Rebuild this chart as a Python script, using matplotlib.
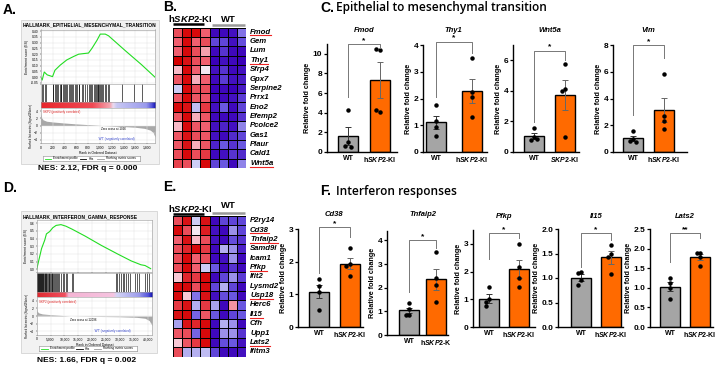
import numpy as np
import matplotlib.pyplot as plt
from matplotlib.colors import LinearSegmentedColormap
from matplotlib.patches import Rectangle
from matplotlib.lines import Line2D
import matplotlib.transforms as mtrans

plt.rcParams['font.family'] = ['Liberation Sans', 'DejaVu Sans']
plt.rcParams['mathtext.fontset'] = 'custom'
plt.rcParams['mathtext.it'] = 'Liberation Sans:italic:bold'
plt.rcParams['mathtext.rm'] = 'Liberation Sans:bold'

# ---------------- GSEA: EMT ----------------
emt_rank = [0, 25, 60, 110, 200, 240, 330, 440, 555, 640, 720, 807, 864, 949, 1006, 1090, 1146, 1430, 1700, 1930]
emt_es = [0, -0.025, 0.045, 0.02, 0.005, 0.06, 0.105, 0.15, 0.18, 0.20, 0.205, 0.21, 0.25, 0.32, 0.375, 0.375, 0.36, 0.23, 0.11, 0.0]
emt_hits = [22, 45, 70, 90, 200, 215, 240, 262, 280, 300, 318, 335, 350, 372, 390, 410, 425, 445, 470,
            490, 505, 530, 550, 575, 600, 620, 640, 655, 690, 720, 750, 780, 810, 835, 850, 870, 895, 910,
            930, 945, 960, 975, 990, 1005, 1020, 1040, 1060, 1080, 1100, 1130, 1150, 1373, 1581, 1712]
emt_metric_rank = [0, 15, 40, 100, 200, 400, 600, 800, 1026, 1200, 1400, 1600, 1750, 1850, 1900, 1930]
emt_metric = [3.5, 2.2, 1.6, 1.2, 1.0, 0.7, 0.45, 0.25, 0.0, -0.15, -0.3, -0.5, -0.8, -1.3, -2.0, -3.2]

# ---------------- GSEA: IFN gamma ----------------
ifn_rank = [0, 900, 1750, 2900, 3500, 4650, 5800, 7000, 8740, 10500, 12800, 17500, 23300, 29100,
            34000, 37500, 39000, 40000, 41000]
ifn_es = [0, 0.14, 0.27, 0.38, 0.46, 0.49, 0.54, 0.57, 0.58, 0.56, 0.52, 0.43, 0.31, 0.2,
          0.11, 0.06, 0.05, 0.03, 0.01]
ifn_hits = [100, 250, 400, 600, 750, 900, 1100, 1300, 1500, 1650, 1800, 2000, 2200, 2400, 2600, 2900,
            3100, 3300, 3500, 3800, 4000, 4300, 4600, 4800, 5100, 5400, 5600, 5900, 6300, 6600, 6900,
            7300, 7700, 8200, 8700, 9300, 9900, 10400, 11000, 12800, 13200, 28500, 29000, 29600, 30300,
            31000, 31500, 32200, 33000, 33600, 35500, 36200, 37000, 39000, 39600, 40300]
ifn_metric_rank = [0, 200, 800, 2000, 5000, 8000, 12096, 20000, 30000, 36000, 39000, 40500, 41500]
ifn_metric = [2.0, 1.2, 0.8, 0.55, 0.35, 0.2, 0.0, -0.1, -0.2, -0.35, -0.6, -1.2, -2.5]

# ---------------- heatmaps ----------------
emt_genes = ['Fmod', 'Gem', 'Lum', 'Thy1', 'Sfrp4', 'Gpx7', 'Serpine2', 'Prrx1', 'Eno2', 'Efemp2',
             'Pcolce2', 'Gas1', 'Plaur', 'Cald1', 'Wnt5a']
emt_marked = ['Fmod', 'Thy1', 'Wnt5a']
emt_heat = [
    [0.6, 0.95, 0.95, 0.5, -0.95, -0.95, -0.9, -0.4],
    [0.5, 0.95, 0.5, 0.6, -0.6, -0.6, -0.9, -0.55],
    [0.5, 0.95, 0.6, 0.25, -0.95, -0.7, -0.95, -0.95],
    [1.0, 0.9, 0.6, 0.5, -1.0, -0.9, -0.95, -1.0],
    [0.15, 0.95, 0.5, 0.0, -0.9, -0.7, -0.95, -0.9],
    [0.55, 0.95, 0.2, 0.5, -0.95, -0.65, -0.9, -0.85],
    [-0.1, 0.95, 0.6, 0.6, -1.0, -0.95, -1.0, -0.85],
    [0.55, 0.95, 0.55, 0.55, -0.95, -0.95, -0.9, -0.65],
    [0.95, 0.9, -0.15, 0.7, -0.9, -0.5, -0.95, -0.6],
    [0.55, 0.95, 0.2, 0.55, -0.95, -0.95, -0.95, -0.7],
    [0.15, 0.95, 0.55, 0.5, -0.9, -0.8, -0.9, -0.35],
    [0.55, 0.9, 0.6, 0.55, -0.9, -0.95, -0.75, -0.6],
    [0.55, 0.9, 0.2, 0.55, -0.8, -0.5, -0.7, -0.5],
    [0.6, 0.95, 0.6, 0.7, -0.95, -0.9, -0.7, -0.75],
    [0.65, 0.6, -0.1, 0.95, -0.6, -0.5, -0.95, -0.35],
]
ifn_genes = ['P2ry14', 'Cd38', 'Tnfaip2', 'Samd9l', 'Icam1', 'Pfkp', 'Ifit2', 'Lysmd2', 'Usp18', 'Herc6',
             'Il15', 'Cfh', 'Upp1', 'Lats2', 'Ifitm3']
ifn_marked = ['Cd38', 'Tnfaip2', 'Pfkp', 'Usp18', 'Il15', 'Lats2']
ifn_heat = [
    [0.6, 0.9, -0.1, 0.9, -0.95, -0.6, -0.6, -0.6],
    [0.95, 0.6, 0.0, 0.85, -0.9, -0.95, -0.3, -0.6],
    [0.5, 0.9, 0.15, 0.6, -0.9, -0.95, -0.55, -0.7],
    [0.6, 0.8, 0.95, 0.7, -0.95, -0.2, -0.3, -0.8],
    [0.6, 0.95, 0.5, 0.6, -0.95, -0.9, -0.3, -0.95],
    [0.6, 0.95, 0.5, -0.1, -0.5, -0.95, -0.7, -0.95],
    [0.1, 0.8, 0.7, 0.95, -0.95, -0.6, -0.3, -0.65],
    [0.95, 0.95, 0.6, 0.95, -0.6, -0.2, -0.6, -0.95],
    [0.95, 0.1, -0.4, 0.9, -0.9, -0.55, -0.5, -0.95],
    [0.7, 0.9, -0.2, 0.7, -0.25, -0.95, 0.3, -0.5],
    [0.9, 0.95, -0.45, 0.55, -0.5, -0.95, -0.6, -0.5],
    [-0.25, 0.9, 0.8, 0.95, -0.95, -0.2, -0.3, -0.95],
    [0.55, 0.6, -0.45, 0.95, -0.95, -0.3, -0.3, -0.7],
    [0.1, 0.55, 0.7, 0.95, -0.95, -0.55, -0.5, -0.9],
    [0.6, -0.2, -0.2, -0.15, -0.6, -0.95, -0.95, -0.9],
]

# ---------------- qPCR (relative fold change, individual mice) ----------------
fmod_wt = [4.3, 1.0, 0.6, 0.55]
fmod_ki = [10.4, 10.5, 4.1, 4.3]
thy1_wt = [1.75, 1.15, 0.95, 0.6]
thy1_ki = [3.5, 2.25, 2.05, 1.3]
wnt5a_wt = [1.55, 0.95, 0.8, 0.85]
wnt5a_ki = [5.75, 4.1, 4.0, 1.0]
vim_wt = [1.55, 1.0, 0.85, 0.75]
vim_ki = [5.8, 2.7, 2.3, 1.7]
cd38_wt = [1.47, 1.25, 1.07, 0.52]
cd38_ki = [2.42, 1.93, 1.87, 1.55]
tnfaip2_wt = [1.35, 1.1, 0.85, 0.85]
tnfaip2_ki = [3.5, 2.4, 2.1, 1.4]
pfkp_wt = [1.45, 1.0, 0.9, 0.75]
pfkp_ki = [3.0, 2.17, 1.76, 1.45]
il15_wt = [1.13, 1.1, 0.95, 0.86]
il15_ki = [1.68, 1.5, 1.42, 1.08]
lats2_wt = [1.25, 1.12, 1.0, 0.72]
lats2_ki = [1.9, 1.9, 1.78, 1.55]

W, H = 720, 366
fig = plt.figure(figsize=(W / 100, H / 100), dpi=100)


def px_rect(x0, y0, x1, y1):
    return [x0 / W, 1 - y1 / H, (x1 - x0) / W, (y1 - y0) / H]


def ftext(x, y, s, **kw):
    return fig.text(x / W, 1 - y / H, s, **kw)


def fline(x0, x1, y, **kw):
    fig.add_artist(Line2D([x0 / W, x1 / W], [1 - y / H] * 2, transform=fig.transFigure, **kw))


GS = 2.4  # tiny GSEA font


def gsea(lay, title, rank, es, es_lim, es_ticks, es_fmt, hits, m_rank, m_vals, xmax, xticks,
         stops, zero_at, zero_txt, nes):
    f = lay['frame']
    L, R = lay['x']
    fig.add_artist(Rectangle((f[0] / W, 1 - f[3] / H), (f[2] - f[0]) / W, (f[3] - f[1]) / H,
                             transform=fig.transFigure, fc='#f2f2f2', ec='#cccccc', lw=0.5, zorder=-1))
    ftext(f[0] + 2, lay['title'], title, fontsize=3.5, fontweight='bold', ha='left', va='center')

    ax = fig.add_axes(px_rect(L, lay['es'][0], R, lay['es'][1]))
    ax.plot(rank, es, color='#22dd22', lw=0.8)
    ax.set_xlim(0, xmax)
    ax.set_ylim(*es_lim)
    ax.set_yticks(es_ticks)
    ax.set_yticklabels([es_fmt.format(v) for v in es_ticks])
    ax.set_xticks(xticks)
    ax.tick_params(labelbottom=False, length=1, width=0.3, labelsize=GS, pad=0.8)
    ax.grid(color='#e3e3e3', lw=0.35)
    ax.set_ylabel('Enrichment score (ES)', fontsize=GS, labelpad=1)

    axh = fig.add_axes(px_rect(L, lay['hits'][0], R, lay['hits'][1]))
    axh.vlines(hits, 0, 1, color='black', lw=0.45)
    axh.set_xlim(0, xmax)
    axh.set_ylim(0, 1)
    axh.set_xticks([])
    axh.set_yticks([])

    axb = fig.add_axes(px_rect(L, lay['bar'][0], R, lay['bar'][1]))
    cm = LinearSegmentedColormap.from_list('rb', stops)
    axb.imshow(np.linspace(0, 1, 300)[None, :], aspect='auto', cmap=cm, extent=[0, xmax, 0, 1])
    axb.set_xticks([])
    axb.set_yticks([])

    axr = fig.add_axes(px_rect(L, lay['rank'][0], R, lay['rank'][1]))
    axr.fill_between(m_rank, m_vals, 0, color='#a8a8a8', lw=0)
    axr.set_xlim(0, xmax)
    axr.set_ylim(-5, 5)
    axr.set_yticks([-4, -2, 0, 2, 4])
    axr.set_xticks(xticks)
    axr.set_xticklabels(['{:,}'.format(v) for v in xticks])
    axr.tick_params(length=1, width=0.3, labelsize=GS, pad=0.8)
    axr.grid(color='#e3e3e3', lw=0.35)
    axr.set_xlabel('Rank in Ordered Dataset', fontsize=GS, labelpad=0.8)
    axr.set_ylabel('Ranked list metric (Signal2Noise)', fontsize=2.1, labelpad=1)
    axr.text(zero_at, -0.4, zero_txt, fontsize=2.2, va='top', ha='left')
    axr.text(0.02, 0.93, 'SKP2 (positively correlated)', transform=axr.transAxes, fontsize=2.2,
             color='#dd2222', va='top')
    axr.text(0.5, 0.06, "'WT' (negatively correlated)", transform=axr.transAxes, fontsize=2.2,
             color='#3344cc', va='bottom')
    for a in (ax, axh, axb, axr):
        for s in a.spines.values():
            s.set_color('#999999')
            s.set_linewidth(0.4)

    ly = lay['legend']
    axl = fig.add_axes(px_rect(L + 2, ly - 2.8, R - 15, ly + 2.8))
    axl.set_xticks([])
    axl.set_yticks([])
    for s in axl.spines.values():
        s.set_linewidth(0.4)
        s.set_color('#888888')
    axl.set_xlim(0, 1)
    axl.set_ylim(0, 1)
    for x0, col, ls, lab in [(0.02, '#22dd22', '-', 'Enrichment profile'), (0.38, 'black', '-', 'Hits'),
                             (0.56, '#999999', '-', 'Ranking metric scores')]:
        axl.plot([x0, x0 + 0.07], [0.5, 0.5], color=col, lw=0.6, ls=ls)
        axl.text(x0 + 0.09, 0.5, lab, fontsize=2.2, va='center')
    ftext((f[0] + f[2]) / 2 - 2, lay['nes'], nes, fontsize=6, fontweight='bold', ha='center', va='center')


lay_a = dict(frame=(21, 20, 159, 164), title=25, x=(40.7, 155), es=(29.5, 83.5), hits=(84, 102.3),
             bar=(102.3, 107.7), rank=(107.7, 143.3), legend=158.5, nes=168)
lay_d = dict(frame=(21, 211, 157, 353), title=216.5, x=(36.7, 152), es=(220, 271.7), hits=(272.5, 292),
             bar=(292, 297), rank=(297, 335), legend=348.5, nes=360)

stops_a = [(0, '#e8262c'), (0.45, '#f04a55'), (0.6, '#f5a5b0'), (0.63, '#ecdcf0'), (0.66, '#c8c8f4'),
           (0.92, '#9a9aec'), (0.97, '#5050d8'), (1, '#1010b0')]
stops_d = [(0, '#e02a30'), (0.24, '#f05060'), (0.27, '#f4b4d4'), (0.66, '#f6c4e0'), (0.69, '#d4d4f6'),
           (0.88, '#9c9cec'), (0.96, '#5858dc'), (1, '#1010b0')]

gsea(lay_a, 'HALLMARK_EPITHELIAL_MESENCHYMAL_TRANSITION', emt_rank, emt_es, (-0.055, 0.415),
     [-0.05, 0, 0.05, 0.1, 0.15, 0.2, 0.25, 0.3, 0.35, 0.4], '{:.2f}', emt_hits, emt_metric_rank,
     emt_metric, 1930, list(range(0, 1801, 200)), stops_a, 1026, 'Zero cross at 1026',
     'NES: 2.12, FDR q = 0.000')
gsea(lay_d, 'HALLMARK_INTERFERON_GAMMA_RESPONSE', ifn_rank, ifn_es, (-0.03, 0.64),
     [0, 0.1, 0.2, 0.3, 0.4, 0.5, 0.6], '{:.1f}', ifn_hits, ifn_metric_rank, ifn_metric, 41500,
     list(range(0, 40001, 5000)), stops_d, 12096, 'Zero cross at 12096', 'NES: 1.66, FDR q = 0.002')

# ---------------- heatmaps ----------------
heat_cmap = LinearSegmentedColormap.from_list('gsea', [
    (0, '#3a00b8'), (0.25, '#6a56e0'), (0.45, '#ccccf5'), (0.5, '#f2e8f2'), (0.55, '#f8c8d4'),
    (0.75, '#f06070'), (1, '#d40000')])
underline = []


def heatmap(y0, y1, genes, vals, marked, hdr_y, bar_y, wt_y, wt_bar_y):
    ax = fig.add_axes(px_rect(173, y0, 246, y1))
    ax.pcolormesh(np.array(vals), cmap=heat_cmap, vmin=-1, vmax=1, edgecolors='black', linewidth=0.6)
    ax.set_xlim(0, 8)
    ax.set_ylim(len(genes), 0)
    ax.axis('off')
    for i, g in enumerate(genes):
        t = ax.text(8.45, i + 0.5, g, fontsize=5.6, fontweight='bold', fontstyle='italic',
                    va='center', ha='left')
        if g in marked:
            underline.append(t)
    ftext(190, hdr_y, r'h$\mathit{SKP2}$-KI', fontsize=6.8, fontweight='bold', ha='center', va='center')
    fline(173, 204, bar_y, color='black', lw=1.8, solid_capstyle='butt')
    ftext(228, wt_y, 'WT', fontsize=6.8, fontweight='bold', ha='center', va='center')
    fline(212, 245, wt_bar_y, color='#999999', lw=1.8, solid_capstyle='butt')


heatmap(27.5, 168, emt_genes, emt_heat, emt_marked, 18, 24, 19, 25)
heatmap(216, 356.5, ifn_genes, ifn_heat, ifn_marked, 208, 214, 206, 213)


# ---------------- bar charts ----------------
def jitter(vals, span):
    placed, offs = [], []
    for v in vals:
        n = sum(abs(v - p) < 0.045 * span for p in placed)
        offs.append([0, -0.14, 0.14, -0.28][min(n, 3)])
        placed.append(v)
    return offs


def bar_panel(rect, cx, title, title_y, wt, ki, ylim, yticks, bracket, stars, ki_label, fmt='{:g}'):
    x0, y0, x1, y1 = rect
    sp = cx[1] - cx[0]
    ax = fig.add_axes(px_rect(*rect))
    for i, (pts, col, ecol) in enumerate([(wt, '#a5a5a5', '#333333'), (ki, '#ff6a00', '#666666')]):
        pts = np.asarray(pts, dtype=float)
        m = pts.mean()
        sem = pts.std(ddof=1) / np.sqrt(len(pts))
        ax.bar(i, m, width=20 / sp, color=col, edgecolor='black', lw=1.0, zorder=2)
        ax.errorbar(i, m, yerr=sem, color=ecol, lw=0.7, capsize=2.2, capthick=0.7, zorder=3)
        offs = jitter(pts, ylim[1] - ylim[0])
        ax.plot(i + np.array(offs) * 0.75, pts, 'o', color='black', ms=2.2, zorder=4, clip_on=False)
    top, lb, rb = bracket
    ax.plot([0, 0, 1, 1], [lb, top, top, rb], color='#777777', lw=0.7, clip_on=False, zorder=5)
    ax.text(0.5, top, stars, ha='center', va='bottom', fontsize=6, fontweight='bold')
    ax.set_xlim((x0 - cx[0]) / sp, (x1 - cx[0]) / sp)
    ax.set_ylim(*ylim)
    ax.set_yticks(yticks)
    ax.set_yticklabels([fmt.format(v) for v in yticks])
    ax.set_xticks([0, 1])
    ax.set_xticklabels(['WT', ki_label])
    ax.tick_params(axis='y', length=2.5, width=0.9, labelsize=6, pad=1)
    ax.tick_params(axis='x', length=0, labelsize=5, pad=2.5)
    for lab in ax.get_xticklabels() + ax.get_yticklabels():
        lab.set_fontweight('bold')
    for s in ('top', 'right'):
        ax.spines[s].set_visible(False)
    for s in ('left', 'bottom'):
        ax.spines[s].set_linewidth(1.0)
    ax.set_ylabel('Relative fold change', fontsize=5.2, fontweight='bold', labelpad=1)
    tr = mtrans.blended_transform_factory(ax.transData, fig.transFigure)
    ax.text(0.5, 1 - title_y / H, title, transform=tr, ha='center', va='center', fontsize=5.5,
            fontweight='bold', fontstyle='italic')
    return ax


KI = r'h$\mathit{SKP2}$-KI'
bar_panel((327, 44, 397, 152), (348, 379.5), 'Fmod', 31, fmod_wt, fmod_ki, (0, 11), [0, 2, 4, 6, 8, 10],
          (11.0, 5.6, 10.6), '*', KI)
bar_panel((423, 45, 487, 152), (436, 471.5), 'Thy1', 31, thy1_wt, thy1_ki, (0, 4), [0, 1, 2, 3, 4],
          (4.13, 2.07, 3.7), '*', KI)
bar_panel((513, 45, 579, 152), (534, 565), 'Wnt5a', 31, wnt5a_wt, wnt5a_ki, (0, 7), [0, 2, 4, 6],
          (6.63, 1.95, 6.05), '*', r'$\mathit{SKP2}$-KI')
bar_panel((613, 45, 687, 152), (633, 664), 'Vim', 31, vim_wt, vim_ki, (0, 8), [0, 2, 4, 6, 8],
          (8.0, 2.76, 7.0), '*', KI)

bar_panel((298, 229, 363, 327), (319, 349.5), 'Cd38', 215, cd38_wt, cd38_ki, (0, 3), [0, 1, 2, 3],
          (3.05, 1.65, 2.75), '*', KI)
bar_panel((387, 231, 448, 335), (409, 436), 'Tnfaip2', 215, tnfaip2_wt, tnfaip2_ki, (0, 4.4),
          [0, 1, 2, 3, 4], (4.0, 1.8, 3.7), '*', r'h$\mathit{SKP2}$-K')
bar_panel((473, 230, 535, 327), (489, 519), 'Pfkp', 216, pfkp_wt, pfkp_ki, (0, 3.5), [0, 1, 2, 3],
          (3.4, 2.45, 3.2), '*', KI)
bar_panel((558, 229, 623, 327), (581, 611), 'Il15', 216, il15_wt, il15_ki, (0, 2), [0, 0.5, 1, 1.5, 2],
          (1.91, 1.22, 1.78), '*', KI, fmt='{:.1f}')
bar_panel((650, 229, 713, 327), (670, 700), 'Lats2', 216, lats2_wt, lats2_ki, (0, 2.5),
          [0, 0.5, 1, 1.5, 2, 2.5], (2.39, 1.67, 2.26), '**', KI, fmt='{:.1f}')

# ---------------- panel letters and titles ----------------
for x, y, s in [(3, 10, 'A.'), (163, 7, 'B.'), (3, 188, 'D.'), (163, 187, 'E.'), (320, 8, 'C.'),
                (320, 191, 'F.')]:
    ftext(x, y, s, fontsize=10, fontweight='bold', ha='left', va='center')
ftext(336, 8, 'Epithelial to mesenchymal transition', fontsize=8.6, fontweight='semibold',
      family=['Open Sans', 'DejaVu Sans'], ha='left', va='center')
ftext(336, 191, 'Interferon responses', fontsize=8.6, fontweight='semibold',
      family=['Open Sans', 'DejaVu Sans'], ha='left', va='center')

# red underlines under highlighted genes
fig.canvas.draw()
rend = fig.canvas.get_renderer()
for t in underline:
    bb = t.get_window_extent(rend)
    y = bb.y0 + 0.2
    fig.add_artist(Line2D([bb.x0 / fig.bbox.width, bb.x1 / fig.bbox.width],
                          [y / fig.bbox.height] * 2, transform=fig.transFigure, color='#ee2222', lw=0.8))

fig.savefig('out.png', dpi=100)
